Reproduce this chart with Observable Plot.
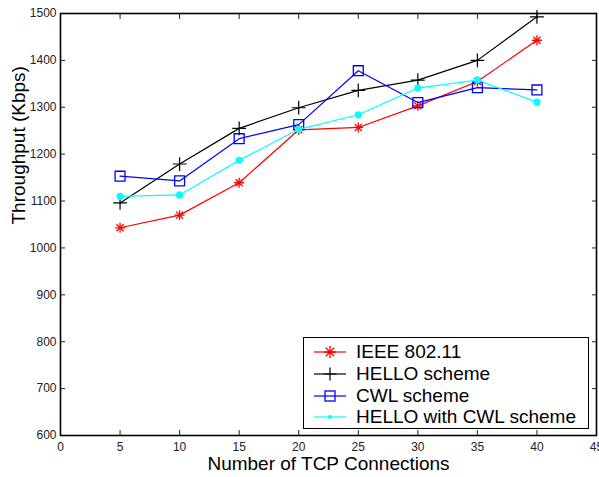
<!DOCTYPE html>
<html>
<head>
<meta charset="utf-8">
<script src="https://cdn.jsdelivr.net/npm/d3@7"></script>
<script src="https://cdn.jsdelivr.net/npm/@observablehq/plot@0.6"></script>
<style>
  body { margin: 0; background: #fff; }
  #wrap { position: relative; width: 599px; height: 477px; font-family: "Liberation Sans", Arial, Helvetica, sans-serif; }
  #legend { position: absolute; left: 303px; top: 337px; width: 284px; height: 90px; border: 1.5px solid #000; background: #fff; box-sizing: content-box; }
  .row { position: absolute; left: 0; height: 22px; display: flex; align-items: center; }
  .row svg { margin-left: 10px; }
  .row span { margin-left: 10px; font-size: 19px; color: #000; line-height: 22px; }
</style>
</head>
<body>
<div id="wrap"></div>
<script>
const connections = [5, 10, 15, 20, 25, 30, 35, 40];
const ieee = [1043, 1070, 1139, 1252, 1257, 1303, 1355, 1443];
const hello = [1096, 1179, 1255, 1299, 1336, 1358, 1400, 1493];
const cwl = [1153, 1143, 1233, 1263, 1378, 1310, 1342, 1337];
const helloCwl = [1110, 1113, 1187, 1253, 1284, 1341, 1358, 1311];
const seriesNames = ["IEEE 802.11", "HELLO scheme", "CWL scheme", "HELLO with CWL scheme"];
const seriesColors = ["#ff0000", "#000000", "#0000ff", "#00ffff"];
const xTicks = [0, 5, 10, 15, 20, 25, 30, 35, 40, 45];
const yTicks = [600, 700, 800, 900, 1000, 1100, 1200, 1300, 1400, 1500];

const mk = (vals) => connections.map((x, i) => ({x, y: vals[i]}));
const dIeee = mk(ieee), dHello = mk(hello), dCwl = mk(cwl), dHc = mk(helloCwl);

const font = "Liberation Sans, Arial, Helvetica, sans-serif";
const chart = Plot.plot({
  width: 599,
  height: 477,
  marginLeft: 60,
  marginRight: 3,
  marginTop: 13,
  marginBottom: 42,
  style: {fontFamily: font, fontSize: "12px", color: "#222", background: "#fff"},
  x: {domain: [0, 45]},
  y: {domain: [600, 1500]},
  marks: [
    Plot.axisX({ticks: xTicks, tickSize: -5, tickPadding: 12, tickFormat: d3.format("d"), label: null, fontSize: 12, strokeWidth: 1}),
    Plot.axisX({ticks: xTicks, anchor: "top", tickSize: -5, tickFormat: () => "", label: null, strokeWidth: 1}),
    Plot.axisY({ticks: yTicks, tickSize: -5, tickPadding: 9, tickFormat: d3.format("d"), label: null, fontSize: 12, strokeWidth: 1}),
    Plot.axisY({ticks: yTicks, anchor: "right", tickSize: -5, tickFormat: () => "", label: null, strokeWidth: 1}),
    Plot.frame({stroke: "#000", strokeWidth: 1.6}),
    Plot.line(dIeee, {x: "x", y: "y", stroke: seriesColors[0], strokeWidth: 1.2}),
    Plot.dot(dIeee, {x: "x", y: "y", symbol: "plus", r: 3.3, stroke: seriesColors[0], strokeWidth: 1.3}),
    Plot.dot(dIeee, {x: "x", y: "y", symbol: "times", r: 3.3, stroke: seriesColors[0], strokeWidth: 1.3}),
    Plot.line(dHello, {x: "x", y: "y", stroke: seriesColors[1], strokeWidth: 1.2}),
    Plot.dot(dHello, {x: "x", y: "y", symbol: "plus", r: 4.5, stroke: seriesColors[1], strokeWidth: 1.2}),
    Plot.line(dCwl, {x: "x", y: "y", stroke: seriesColors[2], strokeWidth: 1.2}),
    Plot.dot(dCwl, {x: "x", y: "y", symbol: "square2", r: 6.3, stroke: seriesColors[2], strokeWidth: 1.3, fill: "none"}),
    Plot.line(dHc, {x: "x", y: "y", stroke: seriesColors[3], strokeWidth: 1.2}),
    Plot.dot(dHc, {x: "x", y: "y", r: 3.6, fill: seriesColors[3], stroke: "none"}),
    Plot.text(["Number of TCP Connections"], {frameAnchor: "bottom", dy: 34, fontSize: 19, fill: "#000"}),
    Plot.text(["Throughput (Kbps)"], {frameAnchor: "left", dx: -42, rotate: -90, fontSize: 19, fill: "#000"})
  ]
});
const wrap = document.getElementById("wrap");
wrap.appendChild(chart);

// legend
const legend = document.createElement("div");
legend.id = "legend";
const markerSvg = (i) => {
  const c = seriesColors[i];
  let m = "";
  if (i === 0) m = `<path d="M16,5V17M10,11H22M11.8,6.8L20.2,15.2M11.8,15.2L20.2,6.8" stroke="${c}" stroke-width="1.3"/>`;
  if (i === 1) m = `<path d="M16,4.5V17.5M9.5,11H22.5" stroke="${c}" stroke-width="1.2"/>`;
  if (i === 2) m = `<rect x="11" y="6" width="10" height="10" fill="none" stroke="${c}" stroke-width="1.3"/>`;
  if (i === 3) m = `<circle cx="16" cy="11" r="2" fill="${c}"/>`;
  return `<svg width="32" height="22"><line x1="0" x2="32" y1="11" y2="11" stroke="${c}" stroke-width="1.2"/>${m}</svg>`;
};
seriesNames.forEach((name, i) => {
  const row = document.createElement("div");
  row.className = "row";
  row.style.top = (3 + i * 21.8) + "px";
  row.innerHTML = markerSvg(i) + `<span>${name}</span>`;
  legend.appendChild(row);
});
wrap.appendChild(legend);
</script>
</body>
</html>
